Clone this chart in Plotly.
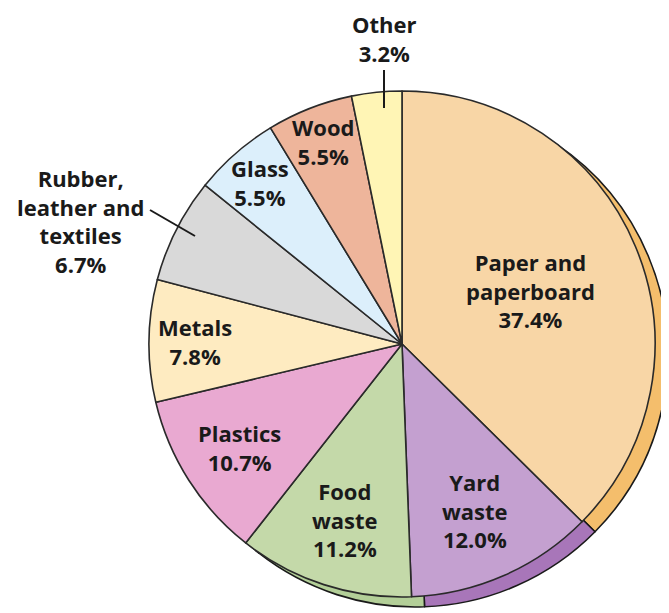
import math
import plotly.graph_objects as go

# ---- data ----
categories = ["Paper and paperboard", "Yard waste", "Food waste", "Plastics", "Metals",
              "Rubber, leather and textiles", "Glass", "Wood", "Other"]
shares = [37.4, 12.0, 11.2, 10.7, 7.8, 6.7, 5.5, 5.5, 3.2]
label_text = ["Paper and<br>paperboard", "Yard<br>waste", "Food<br>waste", "Plastics", "Metals",
              "Rubber,<br>leather and<br>textiles", "Glass", "Wood", "Other"]

# ---- styles ----
front_colors = ["#F8D6A6", "#C4A0D0", "#C4D9A9", "#E9A9D1", "#FEEBC1",
                "#D9D9D9", "#DCEFFB", "#EEB59B", "#FFF5B5"]
back_colors = ["#F4BE6C", "#A876B9", "#B3CF98", "#D98FBE", "#F5D9A0",
               "#C0C0C0", "#BFDDF0", "#DD9A7E", "#F0E08A"]
# radial position of each label (fraction of radius); None -> outside label
label_frac = [0.55, 0.72, 0.73, 0.76, 0.82, None, 0.85, 0.86, None]

W, H = 669, 613
OFF = 8                        # page body margin
CX, CY, R = 402, 344, 253      # front pie centre / radius in page px
DX, DY = 13, 10                # depth offset

def px2paper(x, y):
    return (x - OFF) / W, 1 - (y - OFF) / H

fx0, fy1 = px2paper(CX - R, CY - R)
fx1, fy0 = px2paper(CX + R, CY + R)
bx0, by1 = px2paper(CX + DX - R, CY + DY - R)
bx1, by0 = px2paper(CX + DX + R, CY + DY + R)

fig = go.Figure()
fig.add_trace(go.Pie(
    labels=categories, values=shares, sort=False, direction="clockwise", rotation=0,
    marker=dict(colors=back_colors, line=dict(color="#1a1a1a", width=1.6)),
    textinfo="none", hoverinfo="skip", showlegend=False,
    domain=dict(x=[bx0, min(bx1, 1.0)], y=[max(by0, 0.0), by1]),
))
fig.add_trace(go.Pie(
    labels=categories, values=shares, sort=False, direction="clockwise", rotation=0,
    marker=dict(colors=front_colors, line=dict(color="#2a2a2a", width=1.6)),
    textinfo="none", hoverinfo="skip", showlegend=False,
    domain=dict(x=[fx0, fx1], y=[fy0, fy1]),
))

font = dict(family="Open Sans", size=22, color="#1a1a1a", weight="bold")
annotations = []
shapes = []
total = sum(shares)
cum = 0.0
for name, txt, v, frac in zip(categories, label_text, shares, label_frac):
    mid = (cum + v / 2) / total * 360.0
    cum += v
    text = f"{txt}<br>{v:.1f}%"
    if frac is not None:
        r = frac * R
        x = CX + r * math.sin(math.radians(mid))
        y = CY - r * math.cos(math.radians(mid))
        px_, py_ = px2paper(x, y)
        annotations.append(dict(x=px_, y=py_, xref="paper", yref="paper", text=text,
                                showarrow=False, font=font, xanchor="center", yanchor="middle"))

# outside labels with leader lines
def add_outside(text, tx, ty, lx0, ly0, lx1, ly1):
    px_, py_ = px2paper(tx, ty)
    annotations.append(dict(x=px_, y=py_, xref="paper", yref="paper", text=text,
                            showarrow=False, font=font, xanchor="center", yanchor="middle",
                            borderpad=0))
    a0 = px2paper(lx0, ly0)
    a1 = px2paper(lx1, ly1)
    shapes.append(dict(type="line", xref="paper", yref="paper", x0=a0[0], y0=a0[1],
                       x1=a1[0], y1=a1[1], line=dict(color="#1a1a1a", width=2)))

add_outside(f"{label_text[5]}<br>{shares[5]:.1f}%", 80, 221, 150, 210, 195, 236)
add_outside(f"{label_text[8]}<br>{shares[8]:.1f}%", 384, 39, 384, 70, 384, 108)

fig.update_layout(
    width=W, height=H, margin=dict(l=0, r=0, t=0, b=0),
    paper_bgcolor="white", plot_bgcolor="white",
    annotations=annotations, shapes=shapes,
)
fig.write_html("out.html")
